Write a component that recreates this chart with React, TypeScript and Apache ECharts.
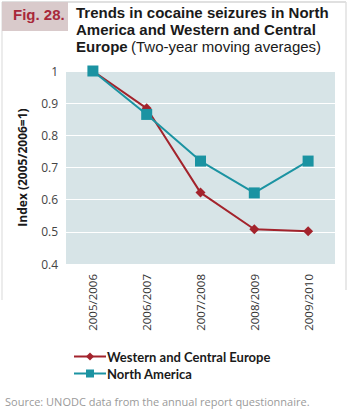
import React, { useEffect, useRef } from "react";
import * as echarts from "echarts";

const categories = ["2005/2006", "2006/2007", "2007/2008", "2008/2009", "2009/2010"];
const westernCentralEurope = [1, 0.884, 0.622, 0.508, 0.502];
const northAmerica = [1, 0.865, 0.72, 0.621, 0.72];
const yTicks = { min: 0.4, max: 1, interval: 0.1 };
const titleLines = [
  "Trends in cocaine seizures in North",
  "America and Western and Central",
];

export default function App() {
  const ref = useRef<HTMLDivElement>(null);
  useEffect(() => {
    const chart = echarts.init(ref.current!, undefined, { renderer: "svg" });
    chart.setOption({
      animation: false,
      backgroundColor: "#ffffff",
      grid: {
        left: 66,
        right: 15,
        top: 71,
        bottom: 152,
        show: true,
        backgroundColor: "#d7e4e7",
        borderWidth: 0,
      },
      graphic: [
        { type: "line", shape: { x1: 2, y1: 2, x2: 346, y2: 2 }, style: { stroke: "#d6d6d6", lineWidth: 1.5 } },
        { type: "line", shape: { x1: 2, y1: 2, x2: 2, y2: 300 }, style: { stroke: "#e6e6e6", lineWidth: 1.5 } },
        { type: "line", shape: { x1: 346, y1: 2, x2: 346, y2: 290 }, style: { stroke: "#e0e0e0", lineWidth: 1.5 } },
        { type: "rect", shape: { x: 2, y: 2, width: 66, height: 29 }, style: { fill: "#d9cacb" } },
        {
          type: "text", left: 13, top: 7,
          style: { text: "Fig. 28.", fill: "#a8283a", font: "bold 15px 'Liberation Sans', Arial, sans-serif" },
        },
        {
          type: "text", left: 76, top: 5,
          style: { text: titleLines[0], fill: "#1a1a1a", font: "bold 15px 'Liberation Sans', Arial, sans-serif" },
        },
        {
          type: "text", left: 76, top: 22,
          style: { text: titleLines[1], fill: "#1a1a1a", font: "bold 15px 'Liberation Sans', Arial, sans-serif" },
        },
        {
          type: "text", left: 76, top: 39,
          style: {
            text: "{b|Europe} {n|(Two-year moving averages)}",
            rich: {
              b: { fill: "#1a1a1a", font: "bold 15px 'Liberation Sans', Arial, sans-serif" },
              n: { fill: "#1a1a1a", font: "15px 'Liberation Sans', Arial, sans-serif" },
            },
          },
        },
        {
          type: "text", left: 5, top: 396,
          style: {
            text: "Source: UNODC data from the annual report questionnaire.",
            fill: "#9a9a9a",
            font: "11px 'Open Sans', sans-serif",
          },
        },
      ],
      legend: {
        orient: "vertical",
        left: 68,
        top: 345,
        itemWidth: 32,
        itemHeight: 10,
        itemGap: 4,
        textStyle: { fontFamily: "Lato, sans-serif", fontWeight: "bold", fontSize: 13, color: "#1a1a1a", padding: [0, 0, 0, -4] },
        data: ["Western and Central Europe", "North America"],
      },
      xAxis: {
        type: "category",
        data: categories,
        boundaryGap: true,
        axisLine: { show: false },
        axisTick: { show: false },
        axisLabel: { rotate: 90, margin: 10, fontSize: 11.5, color: "#333", fontFamily: "'Open Sans', sans-serif" },
      },
      yAxis: {
        type: "value",
        min: yTicks.min,
        max: yTicks.max,
        interval: yTicks.interval,
        name: "Index (2005/2006=1)",
        nameLocation: "middle",
        nameGap: 38,
        nameTextStyle: { fontFamily: "'Open Sans', sans-serif", fontWeight: "bold", fontSize: 12, color: "#1a1a1a" },
        axisLine: { show: false },
        axisTick: { show: false },
        axisLabel: { margin: 8, fontSize: 12, color: "#444", fontFamily: "'Open Sans', sans-serif" },
        splitLine: { show: true, lineStyle: { color: "#ffffff", width: 1 } },
      },
      series: [
        {
          name: "Western and Central Europe",
          type: "line",
          data: westernCentralEurope,
          color: "#a3232c",
          symbol: "diamond",
          symbolSize: 10,
          z: 2,
          lineStyle: { width: 2, color: "#a3232c" },
          itemStyle: { color: "#a3232c" },
        },
        {
          name: "North America",
          type: "line",
          data: northAmerica,
          color: "#1b93a2",
          symbol: "rect",
          symbolSize: 11,
          z: 3,
          lineStyle: { width: 2, color: "#1b93a2" },
          itemStyle: { color: "#1b93a2" },
        },
      ],
    });
    return () => chart.dispose();
  }, []);
  return <div ref={ref} style={{ width: 350, height: 416, position: "absolute", left: 0, top: 0 }} />;
}
